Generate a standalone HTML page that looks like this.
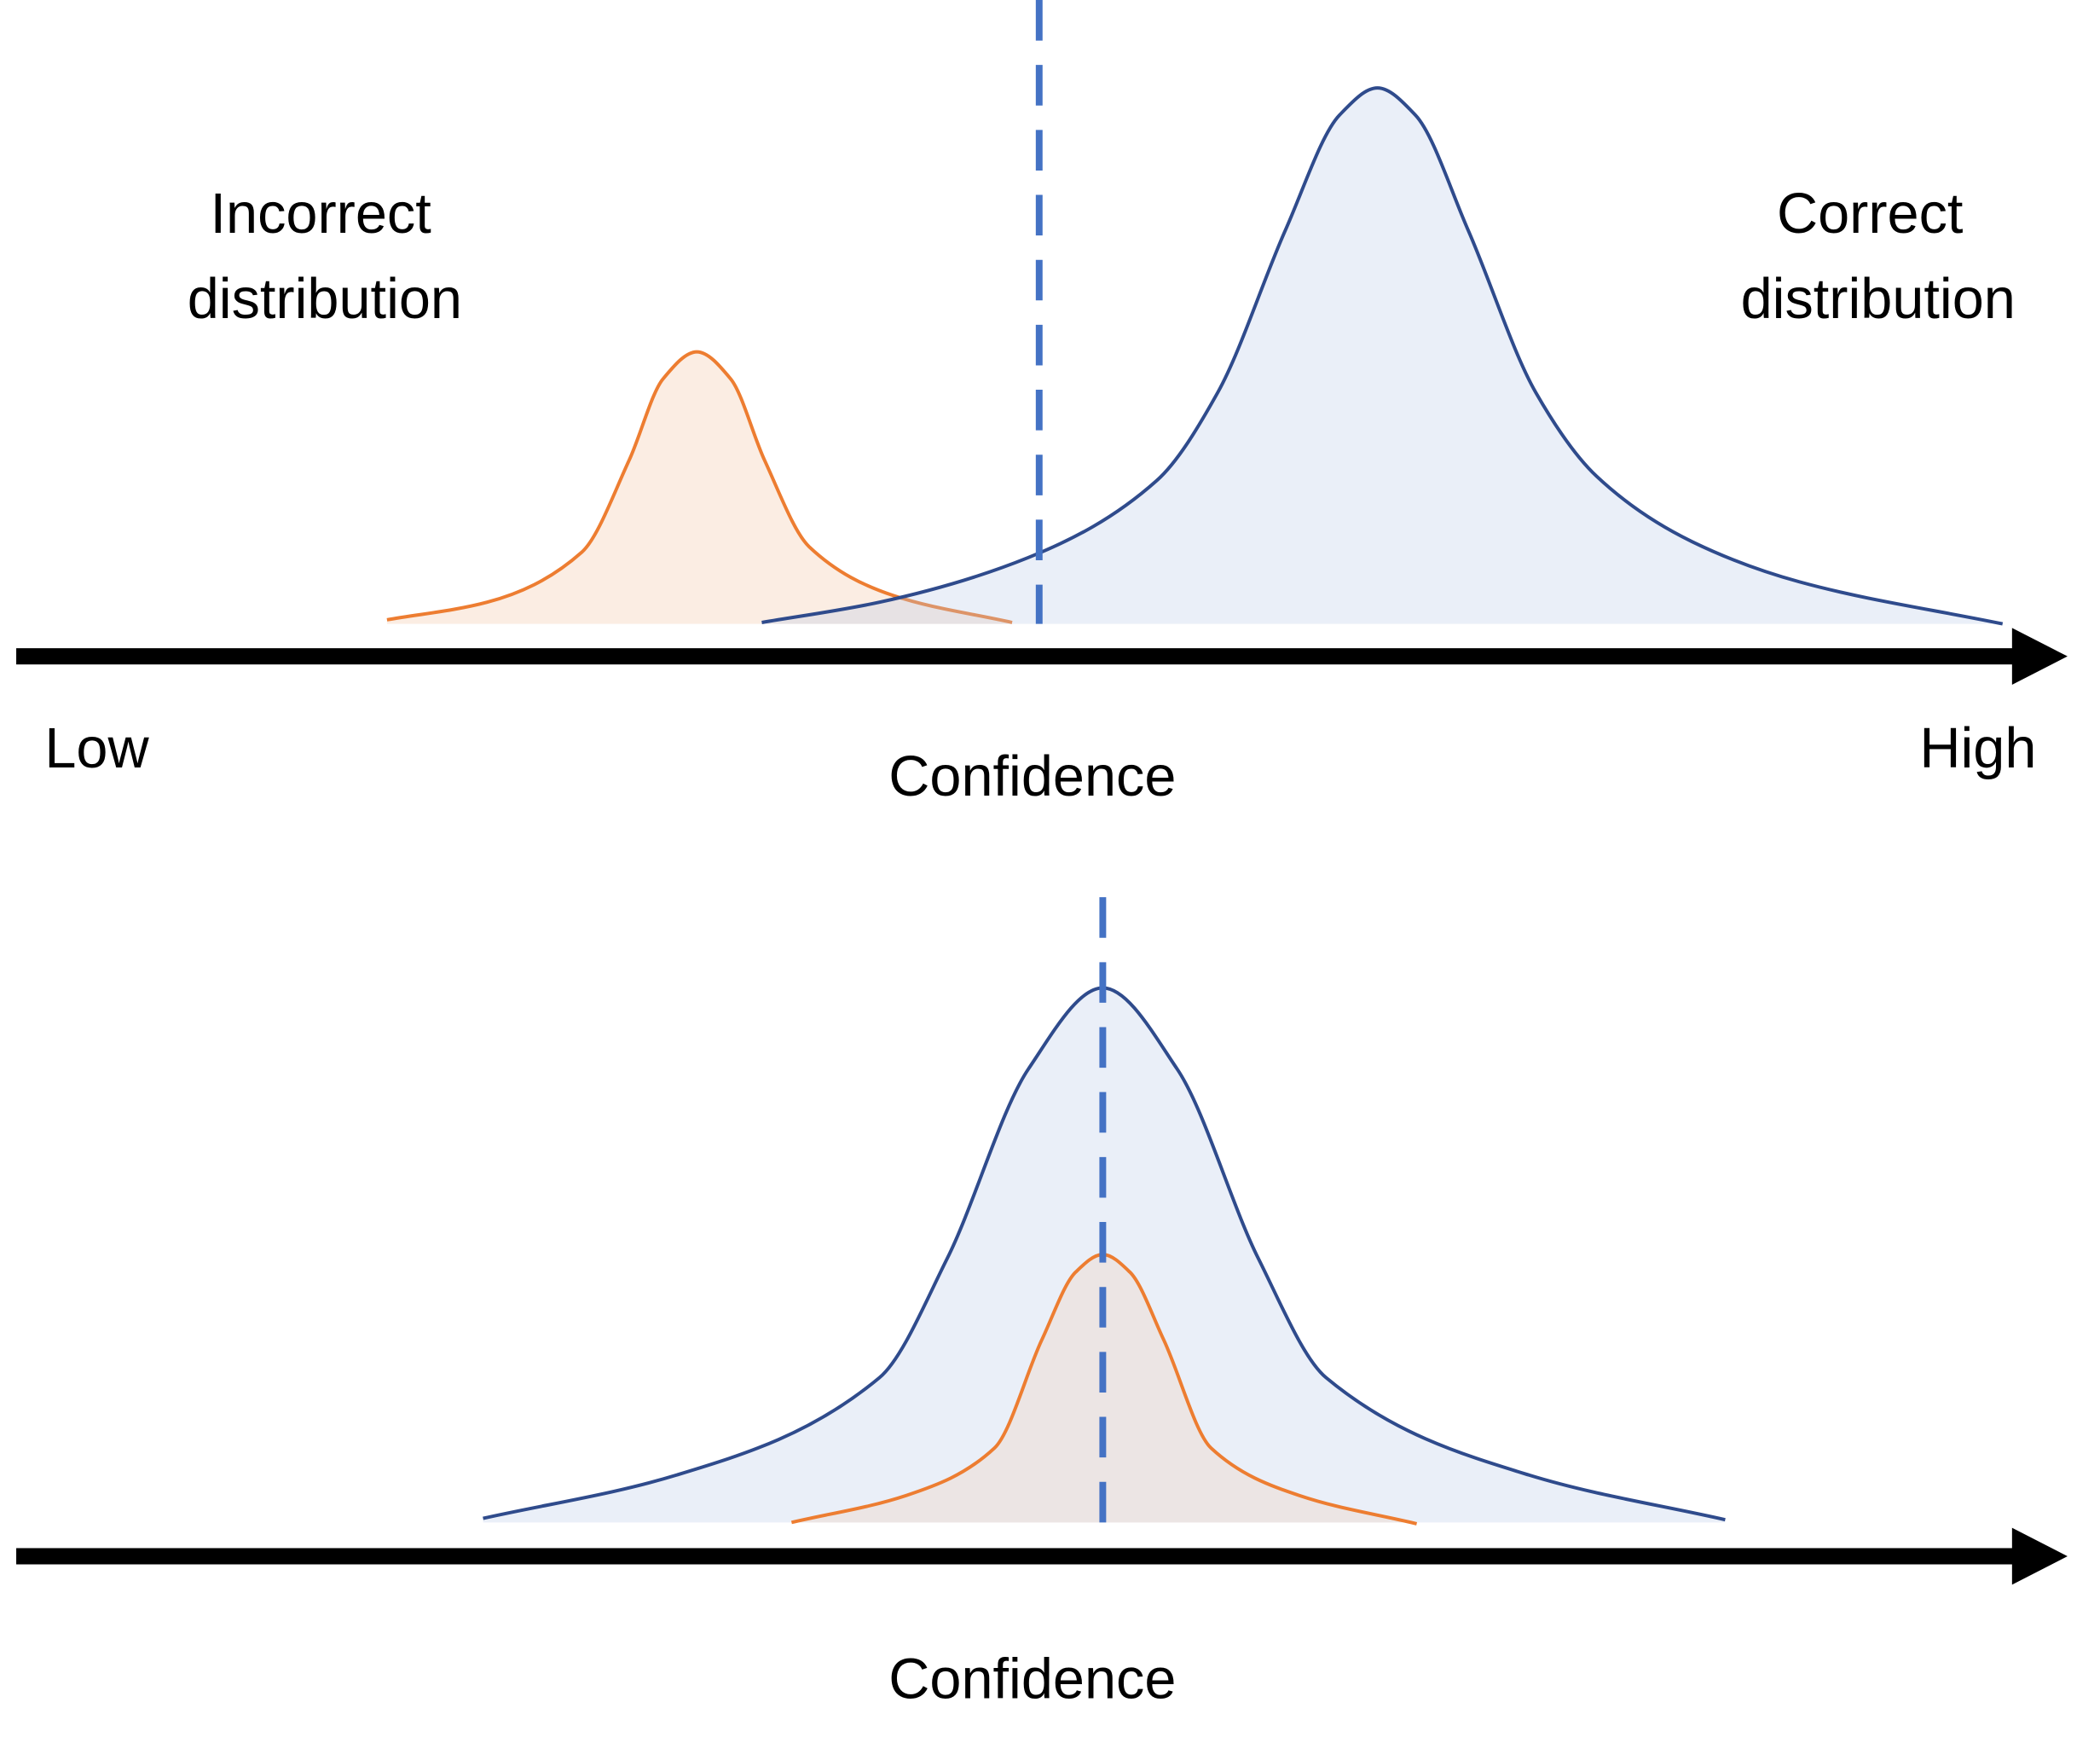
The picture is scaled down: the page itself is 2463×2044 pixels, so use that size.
<!DOCTYPE html>
<html><head><meta charset="utf-8"><style>
html,body{margin:0;padding:0;background:#fff;}
svg{display:block;}
text{font-family:"Liberation Sans",sans-serif;font-size:42px;fill:#000;}
</style></head><body>
<svg id="chart" width="2463" height="2044" viewBox="0 0 1552 1288" preserveAspectRatio="none" xmlns="http://www.w3.org/2000/svg">
<g id="top"></g>
<g id="bottom"></g>
<text x="237" y="172" text-anchor="middle">Incorrect</text>
<text x="240" y="235" text-anchor="middle">distribution</text>
<text x="1382" y="172" text-anchor="middle">Correct</text>
<text x="1388" y="235" text-anchor="middle">distribution</text>
<text x="33" y="567">Low</text>
<text x="1505" y="567" text-anchor="end">High</text>
<text x="763" y="588" text-anchor="middle">Confidence</text>
<text x="763" y="1255" text-anchor="middle">Confidence</text>
</svg>
<script>
// x: confidence position along axis (units), y: density height (units)
const topIncorrectX = [274, 348, 418, 453, 478, 503, 528, 553, 586, 648, 736];
const topIncorrectY = [3, 16, 53, 121, 181, 201, 181, 121, 57, 21, 1];
const topCorrectX = [551, 638, 748, 843, 888, 938, 978, 1006, 1034, 1073, 1123, 1168, 1238, 1318, 1468];
const topCorrectY = [1, 16, 49, 106, 171, 291, 376, 396, 376, 291, 171, 109, 61, 31, 0];
const botCorrectX = [345, 488, 638, 688, 748, 803, 858, 918, 968, 1118, 1263];
const botCorrectY = [3, 35, 107, 195, 335, 395, 335, 195, 107, 35, 2];
const botIncorrectX = [573, 658, 723, 758, 783, 803, 823, 848, 883, 948, 1035];
const botIncorrectY = [0, 20, 55, 135, 185, 198, 185, 135, 55, 20, -1];
const thresholds = [756, 803];

const NS = "http://www.w3.org/2000/svg";
const xScale = v => 12 + v;
function yScaleFor(base){ return d => base - d; }

// monotone cubic (Fritsch-Carlson) in x
function smoothPath(xs, ys, ys2){
  const X = xs.map(xScale), Y = ys.map(ys2), n = X.length;
  const dx=[], m=[];
  for(let i=0;i<n-1;i++){ dx.push(X[i+1]-X[i]); m.push((Y[i+1]-Y[i])/dx[i]); }
  const t = new Array(n);
  t[0]=m[0]; t[n-1]=m[n-2];
  for(let i=1;i<n-1;i++){
    if(m[i-1]*m[i]<=0) t[i]=0;
    else { const w1=2*dx[i]+dx[i-1], w2=dx[i]+2*dx[i-1]; t[i]=(w1+w2)/(w1/m[i-1]+w2/m[i]); }
  }
  let d = `M${X[0]},${Y[0]}`;
  for(let i=0;i<n-1;i++){
    const h=dx[i]/3;
    d += ` C${X[i]+h},${Y[i]+t[i]*h} ${X[i+1]-h},${Y[i+1]-t[i+1]*h} ${X[i+1]},${Y[i+1]}`;
  }
  return {d, first:[X[0],Y[0]], last:[X[n-1],Y[n-1]]};
}

function drawCurve(g, xs, ys, base, stroke, fill, fop, name){
  const ys2 = yScaleFor(base);
  const r = smoothPath(xs, ys, ys2);
  const area = document.createElementNS(NS,'path');
  area.setAttribute('d', r.d + ` L${r.last[0]},${base} L${r.first[0]},${base} Z`);
  area.setAttribute('fill', fill);
  area.setAttribute('fill-opacity', fop);
  
  
  g.appendChild(area);
  const line = document.createElementNS(NS,'path');
  line.setAttribute('d', r.d);
  line.setAttribute('fill','none');
  line.setAttribute('stroke', stroke);
  line.setAttribute('stroke-width', 2.5);
  
  
  g.appendChild(line);
}

function drawAxis(g, y, name){
  const l = document.createElementNS(NS,'rect');
  l.setAttribute('x',12); l.setAttribute('y',y-6); l.setAttribute('width',1480); l.setAttribute('height',12);
  l.setAttribute('fill','#000');
  
  
  g.appendChild(l);
  const a = document.createElementNS(NS,'polygon');
  a.setAttribute('points', `1487,${y-21} 1528,${y} 1487,${y+21}`);
  a.setAttribute('fill','#000');
  
  
  g.appendChild(a);
}

function drawThreshold(g, v, y1, y2, name){
  const l = document.createElementNS(NS,'line');
  l.setAttribute('x1',xScale(v)); l.setAttribute('x2',xScale(v));
  l.setAttribute('y1',y1); l.setAttribute('y2',y2);
  l.setAttribute('stroke','#4472C4'); l.setAttribute('stroke-width',5);
  l.setAttribute('stroke-dasharray','30 18');
  
  
  g.appendChild(l);
}

const gt = document.getElementById('top');
drawCurve(gt, topIncorrectX, topIncorrectY, 461, '#ED7D31', '#F4D3B8', 0.4, 'top-incorrect-curve');
drawCurve(gt, topCorrectX, topCorrectY, 461, '#2F4B8C', '#B9CBE8', 0.3, 'top-correct-curve');
drawAxis(gt, 485, 'top-x-axis');
drawThreshold(gt, thresholds[0], 0, 461, 'top-threshold-line');

const gb = document.getElementById('bottom');
drawCurve(gb, botCorrectX, botCorrectY, 1125, '#2F4B8C', '#B9CBE8', 0.3, 'bottom-correct-curve');
drawCurve(gb, botIncorrectX, botIncorrectY, 1125, '#ED7D31', '#F4C8A8', 0.25, 'bottom-incorrect-curve');
drawAxis(gb, 1150, 'bottom-x-axis');
drawThreshold(gb, thresholds[1], 663, 1125, 'bottom-threshold-line');
</script>
</body></html>
